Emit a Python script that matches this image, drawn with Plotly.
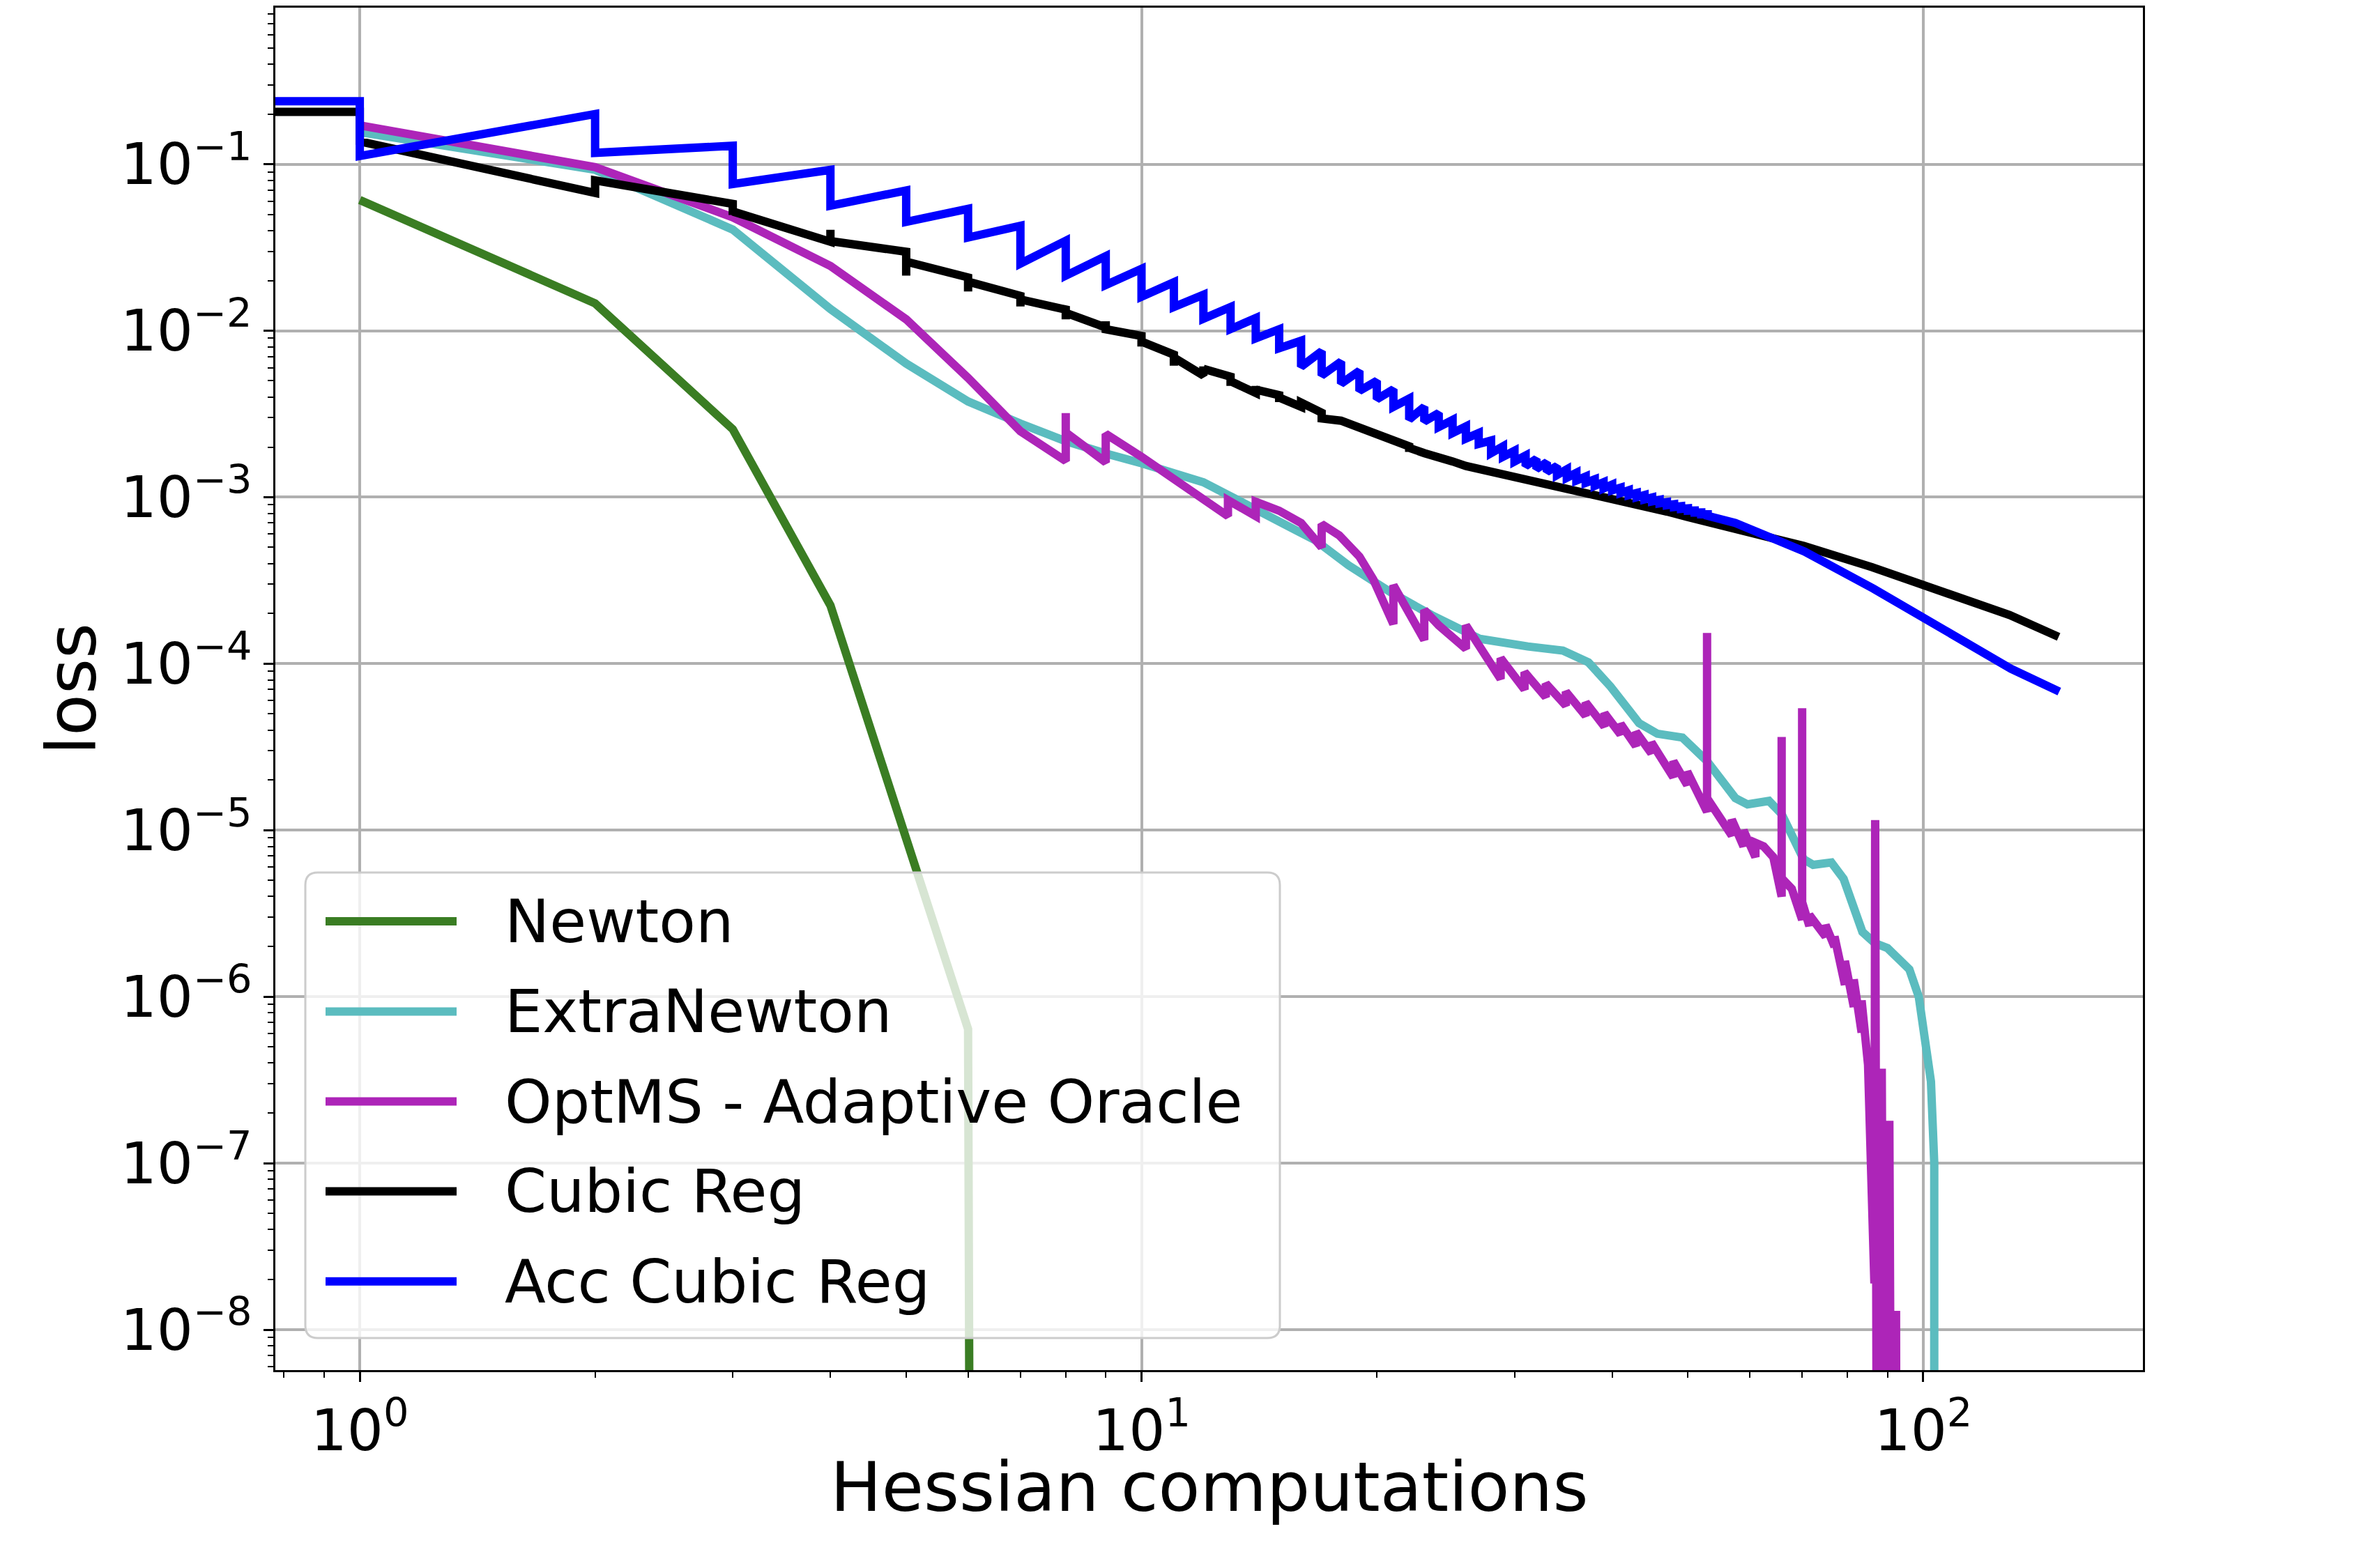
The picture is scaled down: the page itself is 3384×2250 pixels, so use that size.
import plotly.graph_objects as go

# series (loss vs Hessian computations, log-log)

newton_x = [1, 2, 3, 4, 5, 6, 7]
newton_y = [0.061, 0.0146, 2.56e-3, 2.24e-4, 8.9e-6, 6.4e-7, 1e-100]

extra_x = [1, 2, 3, 4, 5, 6, 7, 8, 9, 10, 12.0, 14.2, 16.7, 18.4, 20.8, 23.5,
           27.1, 31.2, 34.6, 37.3, 39.8, 43.3, 45.7, 49.2, 52.9, 57.5, 59.6,
           63.5, 65.9, 70.3, 72.3, 76.3, 79.1, 83.6, 86.7, 90.0, 96.0, 98.7,
           100.5, 102.3, 103.3, 103.5]
extra_y = [0.156, 0.0925, 0.0405, 0.0135, 6.35e-3, 3.76e-3, 2.77e-3, 2.17e-3,
           1.83e-3, 1.6e-3, 1.23e-3, 8.1e-4, 5.5e-4, 3.9e-4, 2.7e-4, 1.96e-4,
           1.41e-4, 1.27e-4, 1.2e-4, 1.02e-4, 7.3e-5, 4.4e-5, 3.8e-5, 3.6e-5,
           2.6e-5, 1.56e-5, 1.43e-5, 1.5e-5, 1.25e-5, 6.7e-6, 6.2e-6, 6.4e-6,
           5.1e-6, 2.45e-6, 2.1e-6, 1.96e-6, 1.46e-6, 1.0e-6, 5.6e-7, 3.1e-7,
           1.0e-7, 1e-100]

optms_x = [1, 2, 3, 4, 5, 6, 7, 8, 8, 8, 9, 9, 10, 12.0, 12.9, 12.9, 14.0,
           14.0, 15.0, 16.0, 17.0, 17.0, 17.9, 19.0, 19.8, 21.0, 21.0, 23.0,
           23.0, 24.0, 26.0, 26.0, 28.8, 28.8, 30.9, 30.9, 32.9, 32.9, 34.9,
           34.9, 37.0, 37.0, 39.1, 39.1, 41.0, 41.0, 42.9, 42.9, 44.9, 44.9,
           47.9, 47.9, 49.9, 49.9, 52.9, 52.9, 52.9, 56.9, 56.9, 58.9, 58.9,
           61.0, 61.0, 62.5, 64.3, 65.9, 65.9, 65.9, 67.9, 70.0, 70.0, 70.0,
           71.5, 71.5, 75.0, 75.0, 77.0, 77.0, 79.4, 79.4, 81.5, 81.5, 83.4,
           83.4, 85.0, 86.6, 86.8, 87.5, 88.5, 89.5, 90.5, 91.5, 92.3, 92.8]
optms_y = [0.171, 0.096, 0.048, 0.0245, 0.0117, 5.2e-3, 2.49e-3, 1.65e-3,
           3.2e-3, 2.45e-3, 1.62e-3, 2.4e-3, 1.75e-3, 9.9e-4, 7.7e-4, 9.6e-4,
           7.7e-4, 9.4e-4, 8.3e-4, 7.0e-4, 5.0e-4, 6.9e-4, 5.9e-4, 4.4e-4,
           3.2e-4, 1.73e-4, 2.96e-4, 1.39e-4, 2.1e-4, 1.7e-4, 1.23e-4, 1.7e-4,
           8.1e-5, 1.08e-4, 7.0e-5, 8.9e-5, 6.3e-5, 7.6e-5, 5.6e-5, 6.8e-5,
           4.86e-5, 5.85e-5, 4.2e-5, 5.05e-5, 3.76e-5, 4.36e-5, 3.2e-5, 3.9e-5,
           2.9e-5, 3.37e-5, 2.08e-5, 2.6e-5, 1.87e-5, 2.25e-5, 1.29e-5, 1.53e-4,
           1.56e-5, 9.3e-6, 1.16e-5, 8.0e-6, 1.0e-5, 6.9e-6, 8.4e-6, 8.0e-6,
           6.9e-6, 4.0e-6, 3.63e-5, 5.15e-6, 4.45e-6, 2.9e-6, 5.4e-5, 3.7e-6,
           2.66e-6, 3.1e-6, 2.3e-6, 2.7e-6, 2.0e-6, 2.3e-6, 1.18e-6, 1.64e-6,
           8.7e-7, 1.27e-6, 6.1e-7, 9.5e-7, 3.9e-7, 1.9e-8, 1.15e-5, 1e-12,
           3.7e-7, 1e-12, 1.8e-7, 1e-12, 1.3e-8, 1e-14]

cubic_x = [0.5, 1, 1, 2, 2, 3, 3, 3, 4, 4, 4, 5, 5, 5, 6, 6, 6, 7, 7, 7, 8, 8,
           8, 9, 9, 9, 10, 10, 10, 11, 11, 11, 12, 12, 12, 13, 13, 13, 14, 14,
           14, 15, 15, 15, 16, 16, 17, 17, 18, 19, 20, 21, 22, 22, 22, 23, 24,
           25, 26, 27, 28, 30, 32, 35, 38, 41, 44, 47, 50, 53, 57.5, 70.3,
           86.0, 105.5, 129.0, 149.0]
cubic_y = [0.206, 0.206, 0.137, 0.0672, 0.080, 0.0578, 0.0495, 0.052, 0.0342,
           0.0404, 0.0345, 0.0298, 0.0214, 0.026, 0.0209, 0.0172, 0.0197,
           0.0162, 0.014, 0.0154, 0.0134, 0.0117, 0.0128, 0.01045, 0.0114,
           0.0102, 9.3e-3, 8.04e-3, 8.6e-3, 7.18e-3, 6.16e-3, 6.9e-3, 5.38e-3,
           6.1e-3, 5.9e-3, 5.3e-3, 4.66e-3, 4.97e-3, 4.23e-3, 4.66e-3, 4.43e-3,
           4.1e-3, 3.73e-3, 3.97e-3, 3.49e-3, 3.7e-3, 3.22e-3, 2.97e-3, 2.88e-3,
           2.62e-3, 2.43e-3, 2.23e-3, 2.02e-3, 1.87e-3, 1.98e-3, 1.84e-3,
           1.75e-3, 1.64e-3, 1.54e-3, 1.48e-3, 1.42e-3, 1.31e-3, 1.23e-3,
           1.14e-3, 1.05e-3, 9.7e-4, 8.9e-4, 8.2e-4, 7.6e-4, 7.1e-4, 6.6e-4,
           5.1e-4, 3.8e-4, 2.76e-4, 1.96e-4, 1.45e-4]

# Acc Cubic Reg: sawtooth, value before (top) and after (bottom) the jump at each step
acc_start = (0.5, 0.239)
acc_k = list(range(1, 54))
acc_top = [0.239, 0.20, 0.129, 0.0925, 0.0695, 0.054, 0.0427, 0.0347, 0.028,
           0.0235, 0.01955, 0.01644, 0.01387, 0.0119, 0.0102, 8.7e-3, 7.53e-3,
           6.52e-3, 5.74e-3, 5.0e-3, 4.45e-3, 3.91e-3, 3.49e-3, 3.2e-3,
           2.91e-3, 2.66e-3, 2.43e-3, 2.19e-3, 2.02e-3, 1.90e-3, 1.78e-3,
           1.70e-3, 1.62e-3, 1.54e-3, 1.47e-3, 1.40e-3, 1.33e-3, 1.28e-3,
           1.23e-3, 1.19e-3, 1.14e-3, 1.10e-3, 1.06e-3, 1.03e-3, 9.96e-4,
           9.64e-4, 9.35e-4, 9.08e-4, 8.82e-4, 8.57e-4, 8.32e-4, 8.1e-4, 7.9e-4]
acc_bot = [0.112, 0.117, 0.076, 0.0563, 0.045, 0.0363, 0.0253, 0.0214, 0.0188,
           0.016, 0.01387, 0.0118, 0.01023, 9.0e-3, 7.85e-3, 6.08e-3, 5.38e-3,
           4.81e-3, 4.35e-3, 3.88e-3, 3.49e-3, 2.93e-3, 2.85e-3, 2.64e-3,
           2.43e-3, 2.25e-3, 2.09e-3, 1.84e-3, 1.75e-3, 1.64e-3, 1.54e-3,
           1.48e-3, 1.42e-3, 1.36e-3, 1.31e-3, 1.26e-3, 1.22e-3, 1.17e-3,
           1.13e-3, 1.10e-3, 1.06e-3, 1.03e-3, 1.00e-3, 9.7e-4, 9.44e-4,
           9.2e-4, 8.96e-4, 8.73e-4, 8.51e-4, 8.3e-4, 8.09e-4, 7.9e-4, 7.73e-4]
acc_tail_x = [57.5, 70.5, 86.3, 105.7, 129.5, 149.3]
acc_tail_y = [7.0e-4, 4.72e-4, 2.83e-4, 1.6e-4, 9.33e-5, 6.8e-5]

names = ["Newton", "ExtraNewton", "OptMS - Adaptive Oracle", "Cubic Reg",
         "Acc Cubic Reg"]
colors = ["#3a7d23", "#5bbcbf", "#ad25b8", "#000000", "#0000ff"]

y_tickvals = [1e-8, 1e-7, 1e-6, 1e-5, 1e-4, 1e-3, 1e-2, 1e-1]
y_ticktext = ["10<sup>−8</sup>", "10<sup>−7</sup>", "10<sup>−6</sup>",
              "10<sup>−5</sup>", "10<sup>−4</sup>", "10<sup>−3</sup>",
              "10<sup>−2</sup>", "10<sup>−1</sup>"]
x_tickvals = [1, 10, 100]
x_ticktext = ["10<sup>0</sup>", "10<sup>1</sup>", "10<sup>2</sup>"]

acc_x = [acc_start[0]]
acc_y = [acc_start[1]]
for k, t, b in zip(acc_k, acc_top, acc_bot):
    acc_x += [k, k]
    acc_y += [t, b]
acc_x += acc_tail_x
acc_y += acc_tail_y

series = [(newton_x, newton_y), (extra_x, extra_y), (optms_x, optms_y),
          (cubic_x, cubic_y), (acc_x, acc_y)]

FONT = "DejaVu Sans"
W, H = 3384, 2250
L, R, T, B = 395, 310, 8, 284
pw, ph = W - L - R, H - T - B
LW = 12

fig = go.Figure()
for (xs, ys), name, c in zip(series, names, colors):
    fig.add_trace(go.Scatter(x=xs, y=ys, mode="lines", name=name,
                             line=dict(color=c, width=LW),
                             showlegend=False))

# minor tick positions of the log axes
y_minor = [m * 10.0 ** e for e in range(-9, 0) for m in range(2, 10)]
x_minor = [m * 10.0 ** e for e in range(-1, 3) for m in range(2, 10)]

axis_common = dict(type="log", showline=True, linecolor="black", linewidth=3,
                   mirror=True, ticks="outside", ticklen=14, tickwidth=2.5,
                   tickcolor="black", showgrid=True, gridcolor="#b0b0b0",
                   gridwidth=3.5, zeroline=False,
                   tickfont=dict(family=FONT, size=82, color="black"))

fig.update_xaxes(**axis_common, range=[-0.108, 2.281], tickmode="array",
                 tickvals=x_tickvals, ticktext=x_ticktext,
                 minor=dict(tickmode="array", tickvals=x_minor, ticks="outside",
                            ticklen=8, tickwidth=2, tickcolor="black",
                            showgrid=False))
fig.update_yaxes(**axis_common, range=[-8.242, -0.06], tickmode="array",
                 tickvals=y_tickvals, ticktext=y_ticktext,
                 minor=dict(tickmode="array", tickvals=y_minor, ticks="outside",
                            ticklen=8, tickwidth=2, tickcolor="black",
                            showgrid=False),
                 title=dict(text="loss", standoff=3,
                            font=dict(family=FONT, size=98, color="black")))


def px_x(p):
    return (p - L) / pw


def px_y(p):
    return (H - B - p) / ph


# x axis title placed directly (plotly's standoff cannot go close enough)
fig.add_annotation(xref="paper", yref="paper", x=0.5, y=px_y(2134),
                   xanchor="center", yanchor="middle", showarrow=False,
                   text="Hessian computations",
                   font=dict(family=FONT, size=98, color="black"))

# legend box (drawn by hand so the line samples are as long as in matplotlib)
bx0, bx1, by0, by1 = px_x(438), px_x(1836), px_y(1920), px_y(1251)
rx, ry = 18 / pw, 18 / ph
box = (f"M {bx0 + rx},{by0} L {bx1 - rx},{by0} Q {bx1},{by0} {bx1},{by0 + ry} "
       f"L {bx1},{by1 - ry} Q {bx1},{by1} {bx1 - rx},{by1} L {bx0 + rx},{by1} "
       f"Q {bx0},{by1} {bx0},{by1 - ry} L {bx0},{by0 + ry} Q {bx0},{by0} {bx0 + rx},{by0} Z")
fig.add_shape(type="path", path=box, xref="paper", yref="paper",
              fillcolor="rgba(255,255,255,0.8)",
              line=dict(color="#cccccc", width=3), layer="above")

row_px = [1321, 1450.6, 1580, 1709, 1838.5]
for name, c, rp in zip(names, colors, row_px):
    yy = px_y(rp)
    fig.add_shape(type="line", xref="paper", yref="paper", x0=px_x(467),
                  x1=px_x(655), y0=yy, y1=yy, line=dict(color=c, width=LW),
                  layer="above")
    fig.add_annotation(xref="paper", yref="paper", x=px_x(722), y=yy,
                       xanchor="left", yanchor="middle", text=name,
                       showarrow=False,
                       font=dict(family=FONT, size=86, color="black"))

fig.update_layout(width=W, height=H, margin=dict(l=L, r=R, t=T, b=B),
                  plot_bgcolor="white", paper_bgcolor="white",
                  font=dict(family=FONT, color="black"))

fig.write_html("out.html", config={"displayModeBar": False},
               post_script="document.body.style.margin='0px';")
